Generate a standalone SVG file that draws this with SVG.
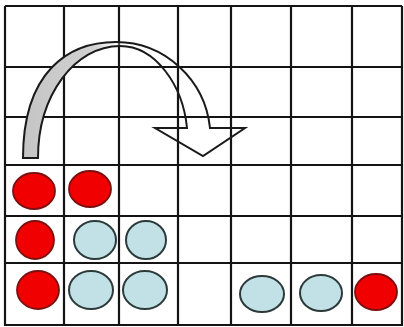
<svg xmlns="http://www.w3.org/2000/svg" width="404" height="327" viewBox="0 0 404 327">
<defs>
<style>
.grid line{stroke:#141414;stroke-width:2.2;}
.red{fill:#f00000;stroke:#7a1010;stroke-width:1.8;}
.blue{fill:#c2e1e6;stroke:#2c3a3a;stroke-width:2;}
.arrow{stroke:#1a1a1a;stroke-width:2;stroke-linejoin:miter;}
</style>
<linearGradient id="band" gradientUnits="userSpaceOnUse" x1="20" y1="0" x2="130" y2="0">
<stop offset="0" stop-color="#c4c4c4" stop-opacity="1"/>
<stop offset="0.7" stop-color="#d2d2d2" stop-opacity="1"/>
<stop offset="0.9" stop-color="#ffffff" stop-opacity="0.3"/>
<stop offset="1" stop-color="#ffffff" stop-opacity="0"/>
</linearGradient>
</defs>
<rect width="404" height="327" fill="#ffffff"/>
<g id="grid" class="grid">
<line x1="5" y1="6" x2="5" y2="326"/>
<line x1="64" y1="6" x2="64" y2="326"/>
<line x1="119" y1="6" x2="119" y2="326"/>
<line x1="178" y1="6" x2="178" y2="326"/>
<line x1="231" y1="6" x2="231" y2="326"/>
<line x1="291" y1="6" x2="291" y2="326"/>
<line x1="352" y1="6" x2="352" y2="326"/>
<line x1="402" y1="6" x2="402" y2="326"/>
<line x1="5" y1="6" x2="402" y2="6"/>
<line x1="5" y1="67" x2="402" y2="67"/>
<line x1="5" y1="117" x2="402" y2="117"/>
<line x1="5" y1="165" x2="402" y2="165"/>
<line x1="5" y1="216" x2="402" y2="216"/>
<line x1="5" y1="263" x2="402" y2="263"/>
<line x1="5" y1="325" x2="402" y2="325"/>
</g>
<g id="connectors">
<path class="arrow" fill="url(#band)" d="M23,158 C23,72 68,42 116,42 C165,42 205,80 210,128 L245,128 L203,156 L155,128 L187,128 C183,86 156,46 120,46 C75,46 38,95 38,158 Z"/>
</g>
<g id="r1"><ellipse class="red" cx="34" cy="191" rx="21" ry="18"/></g>
<g id="r2"><ellipse class="red" cx="90" cy="189" rx="21" ry="18"/></g>
<g id="r3"><ellipse class="red" cx="35" cy="240" rx="19" ry="19"/></g>
<g id="r4"><ellipse class="red" cx="38" cy="290" rx="21" ry="19"/></g>
<g id="r5"><ellipse class="red" cx="376" cy="292" rx="21" ry="18"/></g>
<g id="b1"><ellipse class="blue" cx="95" cy="240" rx="21" ry="19"/></g>
<g id="b2"><ellipse class="blue" cx="146" cy="240" rx="20" ry="19"/></g>
<g id="b3"><ellipse class="blue" cx="91" cy="290" rx="22" ry="19"/></g>
<g id="b4"><ellipse class="blue" cx="145" cy="290" rx="22" ry="19"/></g>
<g id="b5"><ellipse class="blue" cx="262" cy="294" rx="22" ry="18"/></g>
<g id="b6"><ellipse class="blue" cx="321" cy="293" rx="21" ry="18"/></g>
</svg>
